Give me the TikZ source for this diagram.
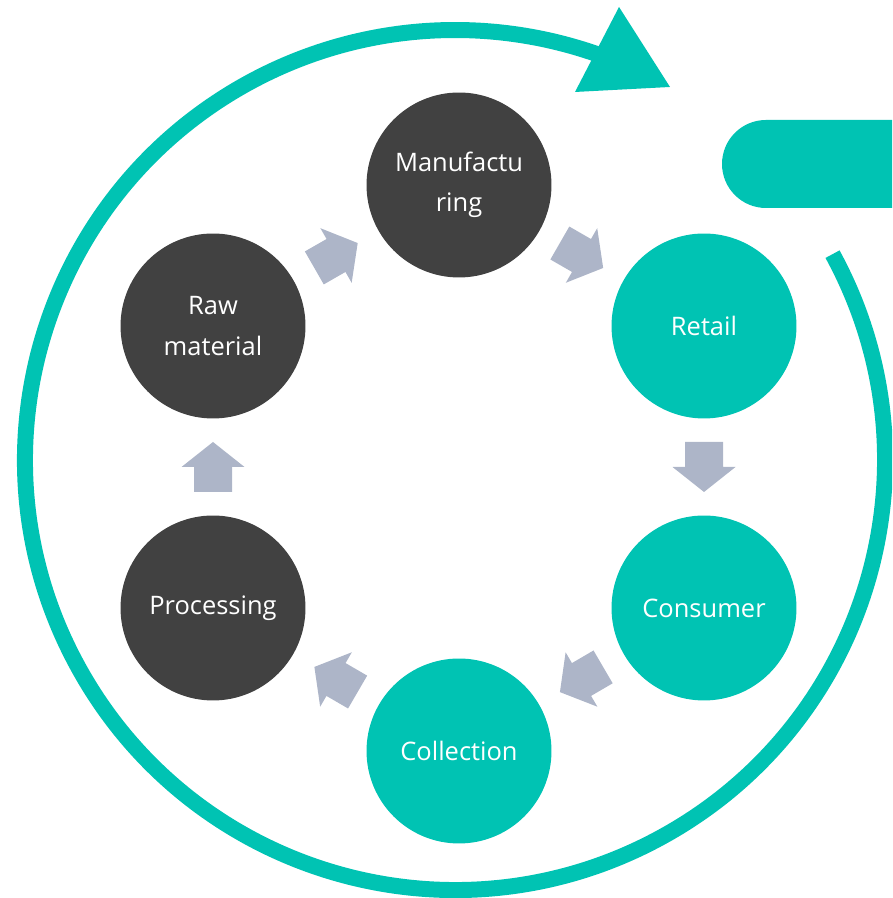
\documentclass[tikz,border=0pt]{standalone}
\usepackage{fontspec}
\setmainfont{Open Sans}
\definecolor{teal1}{HTML}{00C3B3}
\definecolor{dark1}{HTML}{414141}
\definecolor{arr1}{HTML}{ADB5C8}
\tikzset{
  stage/.style={circle, minimum size=3.7cm, inner sep=0pt, text=white,
    font=\fontsize{14.5}{23}\selectfont, align=center},
  darkstage/.style={stage, fill=dark1},
  tealstage/.style={stage, fill=teal1},
  blockarrow/.pic={\fill[arr1] (-25,-19) -- (0,-19) -- (0,-31.5) -- (25,0)
      -- (0,31.5) -- (0,19) -- (-25,19) -- cycle;},
  flowarrow/.style={pos=0.5, sloped, allow upside down}
}
\begin{document}
\begin{tikzpicture}[x=0.02cm,y=0.02cm]
\useasboundingbox (0,0) rectangle (892,898);
\clip (0,0) rectangle (892,898);

% outer cycle arc with arrow head
\draw[teal1, line width=0.32cm] (455,438) ++(28.6:430)
  arc[start angle=28.6, end angle=-291, radius=430];
\fill[teal1] (619,891) -- (670,811) -- (575,806) -- cycle;

% rounded bar at right
\fill[teal1, rounded corners=0.88cm] (722,690) rectangle (980,778);

% stages
\node[darkstage] (manu)   at (459,713) {Manufactu\\ring};
\node[tealstage] (retail) at (704,572) {Retail};
\node[tealstage] (cons)   at (704,290) {Consumer};
\node[tealstage] (coll)   at (459,147) {Collection};
\node[darkstage] (proc)   at (213,290) {Processing};
\node[darkstage] (raw)    at (213,572) {Raw\\material};

% block arrows between stages
\path (raw) -- (manu) pic[flowarrow] {blockarrow};
\path (manu) -- (retail) pic[flowarrow] {blockarrow};
\path (retail) -- (cons) pic[flowarrow] {blockarrow};
\path (cons) -- (coll) pic[flowarrow] {blockarrow};
\path (coll) -- (proc) pic[flowarrow] {blockarrow};
\path (proc) -- (raw) pic[flowarrow] {blockarrow};
\end{tikzpicture}
\end{document}
